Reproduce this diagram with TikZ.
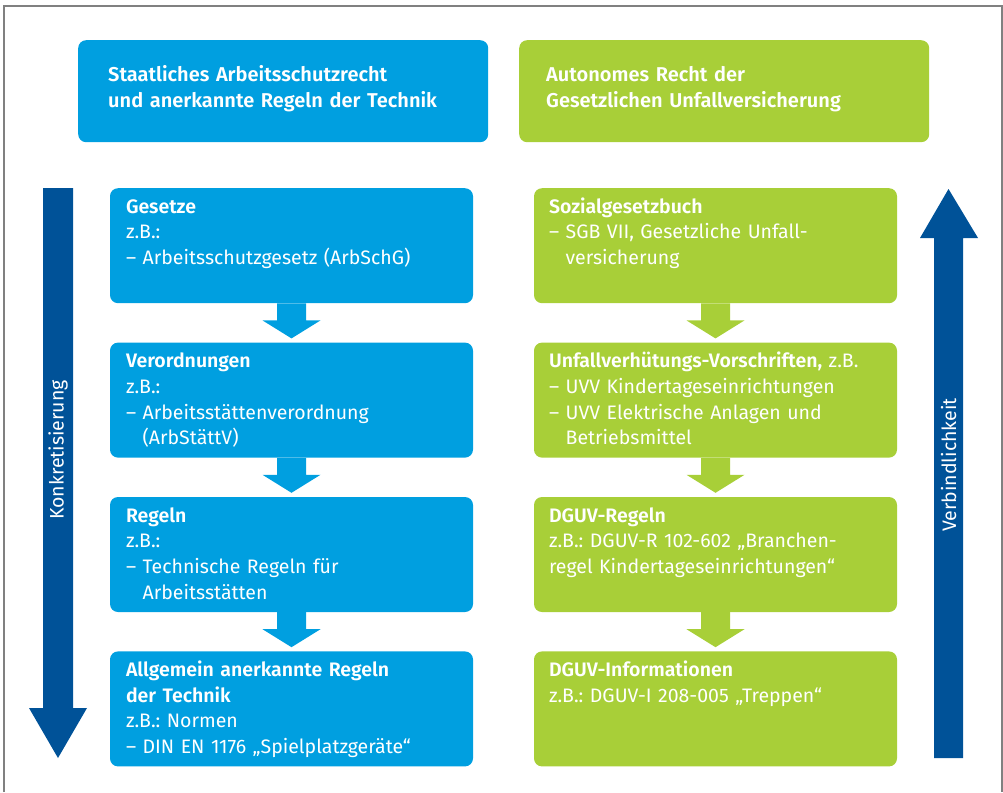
\documentclass[tikz,border=0pt]{standalone}
\usepackage{fontspec}
\setmainfont{Fira Sans}[BoldFont=* SemiBold]
\usetikzlibrary{positioning}
\frenchspacing

\definecolor{dguvblue}{RGB}{0,159,224}
\definecolor{dguvgreen}{RGB}{168,207,56}
\definecolor{dguvdark}{RGB}{0,82,152}
\definecolor{framegrey}{RGB}{128,128,128}

\newcommand{\ind}{\phantom{– }}
% block arrow below a box
\newcommand{\stufenpfeil}[2]{%
  \coordinate (#1-fuss) at (#1.south);
  \fill[#2] (#1-fuss) ++(-14.5,0) -- ++(0,17) -- ++(-14.5,0) -- ++(29,18)
    -- ++(29,-18) -- ++(-14.5,0) -- ++(0,-17) -- cycle;}

\begin{document}
\begin{tikzpicture}[x=1pt, y=-1pt,
  every node/.style = {font=\fontsize{19.5}{25.7}\selectfont, text=white},
  headbox/.style = {rounded corners=8pt, anchor=north west, align=left,
    font=\fontsize{20}{26}\selectfont\bfseries,
    inner ysep=10pt, text height=31pt, text depth=51pt},
  stagebox/.style = {rounded corners=8pt, anchor=north, align=left,
    inner xsep=16pt, inner ysep=10pt, text width=331pt,
    text height=15pt, text depth=80pt}]
  \useasboundingbox (0,0) rectangle (1003,792);
  \draw[framegrey, line width=1.2pt] (4,792) |- (1002,6) -- (1002,792);

  \node[headbox, fill=dguvblue, inner xsep=30pt, text width=350pt] (staat) at (78,40)
    {Staatliches Arbeitsschutzrecht\\und anerkannte Regeln der Technik};
  \node[headbox, fill=dguvgreen, inner xsep=27pt, text width=356pt] (autonom) at (519,40)
    {Autonomes Recht der\\Gesetzlichen Unfallversicherung};

  \node[stagebox, fill=dguvblue] (gesetze) at (291.5,188)
    {\textbf{Gesetze}\\z.B.:\\– Arbeitsschutzgesetz (ArbSchG)};
  \node[stagebox, fill=dguvblue, below=39pt of gesetze] (verordnungen)
    {\textbf{Verordnungen}\\z.B.:\\– Arbeitsstättenverordnung\\\ind(ArbStättV)};
  \node[stagebox, fill=dguvblue, below=39pt of verordnungen] (regeln)
    {\textbf{Regeln}\\z.B.:\\– Technische Regeln für\\\ind Arbeitsstätten};
  \node[stagebox, fill=dguvblue, below=39pt of regeln] (technik)
    {\textbf{Allgemein anerkannte Regeln}\\\textbf{der Technik}\\z.B.: Normen\\– DIN EN 1176 „Spielplatzgeräte“};

  \node[stagebox, fill=dguvgreen, inner xsep=15pt, text width=333pt] (sgb) at (715.5,188)
    {\textbf{Sozialgesetzbuch}\\– SGB VII, Gesetzliche Unfall-\\\ind versicherung};
  \node[stagebox, fill=dguvgreen, inner xsep=15pt, text width=333pt, below=39pt of sgb] (uvv)
    {\textbf{Unfallverhütungs-Vorschriften,} z.B.\\– UVV Kindertageseinrichtungen\\– UVV Elektrische Anlagen und\\\ind Betriebsmittel};
  \node[stagebox, fill=dguvgreen, inner xsep=15pt, text width=333pt, below=39pt of uvv] (dguvr)
    {\textbf{DGUV-Regeln}\\z.B.: DGUV-R 102-602 „Branchen-\\regel Kindertageseinrichtungen“};
  \node[stagebox, fill=dguvgreen, inner xsep=15pt, text width=333pt, below=39pt of dguvr] (dguvi)
    {\textbf{DGUV-Informationen}\\z.B.: DGUV-I 208-005 „Treppen“};

  \stufenpfeil{gesetze}{dguvblue}
  \stufenpfeil{verordnungen}{dguvblue}
  \stufenpfeil{regeln}{dguvblue}
  \stufenpfeil{sgb}{dguvgreen}
  \stufenpfeil{uvv}{dguvgreen}
  \stufenpfeil{dguvr}{dguvgreen}

  \fill[dguvdark] (43,188) -- (73,188) -- (73,708) -- (87,708) -- (58,758)
    -- (29,708) -- (43,708) -- cycle;
  \node[rotate=90] (konkret) at (58,450) {Konkretisierung};
  \fill[dguvdark] (934,758) -- (963,758) -- (963,238) -- (978,238) -- (948.5,189)
    -- (920,238) -- (934,238) -- cycle;
  \node[rotate=90] (verbindlich) at (948.5,465) {Verbindlichkeit};
\end{tikzpicture}
\end{document}
